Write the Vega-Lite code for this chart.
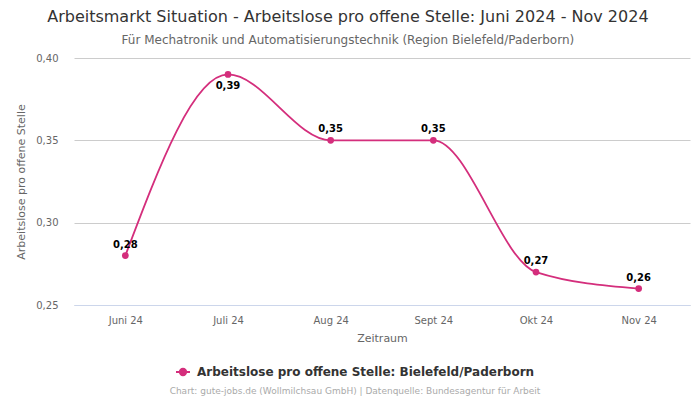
{
  "$schema": "https://vega.github.io/schema/vega-lite/v6.json",
  "width": 616,
  "height": 247,
  "autosize": {"type": "none"},
  "padding": {"left": 74, "right": 10, "top": 58, "bottom": 95},
  "background": "white",
  "title": {
    "text": "Arbeitsmarkt Situation - Arbeitslose pro offene Stelle: Juni 2024 - Nov 2024",
    "subtitle": "Für Mechatronik und Automatisierungstechnik (Region Bielefeld/Paderborn)",
    "frame": "bounds",
    "limit": 700,
    "dx": -5,
    "font": "DejaVu Sans",
    "fontSize": 16,
    "fontWeight": "normal",
    "color": "#333333",
    "subtitleFont": "DejaVu Sans",
    "subtitleFontSize": 12,
    "subtitleColor": "#666666",
    "subtitlePadding": 10,
    "offset": 7,
    "anchor": "middle"
  },
  "data": {
    "values": [
      {"Monat": "Juni 24", "Wert": 0.28, "Serie": "Arbeitslose pro offene Stelle: Bielefeld/Paderborn"},
      {"Monat": "Juli 24", "Wert": 0.39, "Serie": "Arbeitslose pro offene Stelle: Bielefeld/Paderborn"},
      {"Monat": "Aug 24", "Wert": 0.35, "Serie": "Arbeitslose pro offene Stelle: Bielefeld/Paderborn"},
      {"Monat": "Sept 24", "Wert": 0.35, "Serie": "Arbeitslose pro offene Stelle: Bielefeld/Paderborn"},
      {"Monat": "Okt 24", "Wert": 0.27, "Serie": "Arbeitslose pro offene Stelle: Bielefeld/Paderborn"},
      {"Monat": "Nov 24", "Wert": 0.26, "Serie": "Arbeitslose pro offene Stelle: Bielefeld/Paderborn"}
    ]
  },
  "encoding": {
    "x": {
      "field": "Monat",
      "type": "ordinal",
      "sort": null,
      "scale": {"type": "point", "padding": 0.5},
      "axis": {
        "title": "Zeitraum",
        "labelAngle": 0,
        "domain": true,
        "domainColor": "#ccd6eb",
        "ticks": false,
        "labelPadding": 10,
        "titlePadding": 7,
        "grid": false
      }
    },
    "y": {
      "field": "Wert",
      "type": "quantitative",
      "scale": {"domain": [0.25, 0.4], "nice": false, "zero": false},
      "axis": {
        "title": "Arbeitslose pro offene Stelle",
        "values": [0.25, 0.3, 0.35, 0.4],
        "format": ".2f",
        "domain": false,
        "ticks": false,
        "labelPadding": 16,
        "titlePadding": 9,
        "titleFontSize": 11
      }
    }
  },
  "layer": [
    {
      "mark": {"type": "line", "interpolate": "monotone", "strokeWidth": 1.8},
      "encoding": {
        "color": {
          "field": "Serie",
          "type": "nominal",
          "scale": {"range": ["#d42e7c"]},
          "legend": {
            "orient": "none",
            "legendX": 96,
            "legendY": 306,
            "direction": "horizontal",
            "title": "Chart: gute-jobs.de (Wollmilchsau GmbH) | Datenquelle: Bundesagentur für Arbeit",
            "titleOrient": "bottom",
            "titleFontWeight": "normal",
            "titleFontSize": 9,
            "titleColor": "#aaaaaa",
            "titleFont": "DejaVu Sans",
            "titleLimit": 700,
            "titlePadding": 8,
            "titleAnchor": "middle",
            "labelFont": "DejaVu Sans",
            "labelFontSize": 12,
            "labelFontWeight": "bold",
            "labelColor": "#333333",
            "labelLimit": 500,
            "labelOffset": 6,
            "symbolType": "M-1,0L1,0M-0.45,0A0.45,0.45,0,1,0,0.45,0A0.45,0.45,0,1,0,-0.45,0Z",
            "symbolFillColor": "#d42e7c",
            "symbolStrokeColor": "#d42e7c",
            "symbolStrokeWidth": 2,
            "symbolSize": 196,
            "symbolOffset": 0
          }
        }
      }
    },
    {
      "mark": {"type": "point", "filled": true, "size": 45, "opacity": 1, "color": "#d42e7c"},
      "encoding": {}
    },
    {
      "transform": [{"filter": "datum.Monat !== 'Juli 24'"}],
      "mark": {"type": "text", "baseline": "bottom", "dy": -6, "font": "DejaVu Sans", "fontSize": 10, "fontWeight": "bold", "color": "#000000"},
      "encoding": {"text": {"field": "Wert", "type": "quantitative", "format": ".2f"}}
    },
    {
      "transform": [{"filter": "datum.Monat === 'Juli 24'"}],
      "mark": {"type": "text", "baseline": "top", "dy": 7, "font": "DejaVu Sans", "fontSize": 10, "fontWeight": "bold", "color": "#000000"},
      "encoding": {"text": {"field": "Wert", "type": "quantitative", "format": ".2f"}}
    }
  ],
  "config": {
    "locale": {"number": {"decimal": ",", "thousands": ".", "grouping": [3], "currency": ["", " €"]}},
    "font": "DejaVu Sans",
    "view": {"stroke": null},
    "axis": {
      "labelFont": "DejaVu Sans",
      "labelFontSize": 10,
      "labelColor": "#666666",
      "titleFont": "DejaVu Sans",
      "titleFontSize": 11,
      "titleFontWeight": "normal",
      "titleColor": "#666666",
      "gridColor": "#cccccc",
      "gridWidth": 1
    }
  }
}
